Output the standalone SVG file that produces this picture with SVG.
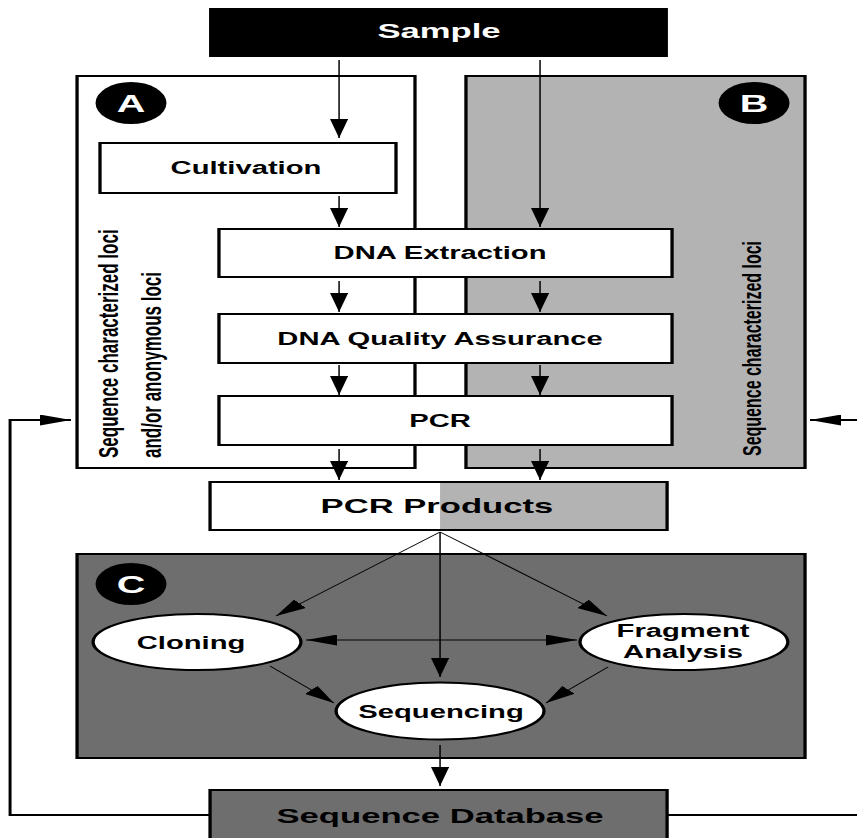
<svg xmlns="http://www.w3.org/2000/svg" width="857" height="838" viewBox="0 0 857 838">
<style>
.bx{stroke:#000;stroke-width:2}
.t{font-family:"Liberation Sans",Arial,Helvetica,sans-serif;font-weight:bold;text-anchor:middle;fill:#000}
.n{font-size:17.7px}
.big{font-size:21px}
.lab{font-size:24px;fill:#fff}
.rot{font-family:"Liberation Sans",Arial,Helvetica,sans-serif;font-weight:bold;fill:#000}
.c{stroke:#000;stroke-width:0.9;fill:none}
.cm{marker-end:url(#ah)}
.fb{stroke:#000;stroke-width:1.8;fill:none}
</style>
<defs>
<marker id="ah" markerUnits="userSpaceOnUse" viewBox="0 0 19 11" markerWidth="19" markerHeight="11" refX="19" refY="5.5" orient="auto-start-reverse">
<path d="M0,0 L19,5.5 L0,11 z" fill="#000"/>
</marker>
</defs>
<rect width="857" height="838" fill="#fff"/>
<g transform="scale(1.65,1)">
  <g id="groupA">
    <rect x="46.7" y="76" width="204.8" height="392" fill="#fff" class="bx"/>
    <ellipse cx="79.4" cy="103" rx="21.5" ry="21" fill="#000"/>
    <text class="t lab" x="79.4" y="112">A</text>
    <text class="rot" font-size="17" transform="translate(71.5,458) rotate(-90)">Sequence characterized loci</text>
    <text class="rot" font-size="17" transform="translate(97.6,458) rotate(-90)">and/or anonymous loci</text>
  </g>
  <g id="groupB">
    <rect x="282.4" y="76" width="205.5" height="392" fill="#b3b3b3" class="bx"/>
    <ellipse cx="457" cy="103" rx="21.5" ry="21" fill="#000"/>
    <text class="t lab" x="457" y="112">B</text>
    <text class="rot" font-size="16" transform="translate(461.2,456) rotate(-90)">Sequence characterized loci</text>
  </g>
  <g id="groupC">
    <rect x="46.7" y="554" width="441.2" height="204" fill="#6e6e6e" class="bx"/>
    <ellipse cx="79.4" cy="584" rx="21.5" ry="21" fill="#000"/>
    <text class="t lab" x="79.4" y="593">C</text>
  </g>
  <g id="connectors">
    <line class="c cm" x1="205.5" y1="60" x2="205.5" y2="138"/>
    <line class="c cm" x1="327.3" y1="60" x2="327.3" y2="227"/>
    <line class="c cm" x1="205.5" y1="196" x2="205.5" y2="227"/>
    <line class="c cm" x1="205.5" y1="281" x2="205.5" y2="312"/>
    <line class="c cm" x1="327.3" y1="281" x2="327.3" y2="312"/>
    <line class="c cm" x1="205.5" y1="365" x2="205.5" y2="395"/>
    <line class="c cm" x1="327.3" y1="365" x2="327.3" y2="395"/>
    <line class="c cm" x1="205.5" y1="449" x2="205.5" y2="480"/>
    <line class="c cm" x1="327.3" y1="449" x2="327.3" y2="480"/>
    <line class="c cm" x1="266.7" y1="532" x2="167.3" y2="616"/>
    <line class="c cm" x1="266.7" y1="532" x2="266.7" y2="677"/>
    <line class="c cm" x1="266.7" y1="532" x2="367.9" y2="616"/>
    <line class="c cm" x1="185.5" y1="640" x2="349.7" y2="640" marker-start="url(#ah)"/>
    <line class="c cm" x1="163.6" y1="666" x2="202.4" y2="703"/>
    <line class="c cm" x1="368.5" y1="667" x2="330.9" y2="703"/>
    <line class="c cm" x1="266.7" y1="745" x2="266.7" y2="786"/>
    <polyline class="fb" points="127.3,815 6.1,815 6.1,420 43,420" marker-end="url(#ah)"/>
    <polyline class="fb" points="404.2,815 525,815"/>
    <line class="fb" x1="525" y1="420" x2="490.9" y2="420" marker-end="url(#ah)"/>
  </g>
  <g id="sample">
    <rect x="126.7" y="8" width="278.1" height="49" fill="#000"/>
    <text class="t big" x="266.1" y="38.5" fill="#fff" style="fill:#fff">Sample</text>
  </g>
  <g id="cultivation">
    <rect x="60.6" y="143" width="179.4" height="50" fill="#fff" class="bx"/>
    <text class="t n" x="149.1" y="174.5">Cultivation</text>
  </g>
  <g id="dnaExtraction">
    <rect x="132.7" y="229" width="274.6" height="48" fill="#fff" class="bx"/>
    <text class="t n" x="266.7" y="259.5">DNA Extraction</text>
  </g>
  <g id="dnaQA">
    <rect x="132.7" y="314" width="274.6" height="49" fill="#fff" class="bx"/>
    <text class="t n" x="266.7" y="345">DNA Quality Assurance</text>
  </g>
  <g id="pcr">
    <rect x="132.7" y="396" width="274.6" height="49" fill="#fff" class="bx"/>
    <text class="t n" x="266.7" y="427">PCR</text>
  </g>
  <g id="pcrProducts">
    <rect x="127.3" y="482" width="139.4" height="48" fill="#fff"/>
    <rect x="266.7" y="482" width="137.6" height="48" fill="#b3b3b3"/>
    <rect x="127.3" y="482" width="277" height="48" fill="none" class="bx"/>
    <text class="t big" x="264.8" y="513">PCR Products</text>
  </g>
  <g id="cloning">
    <ellipse cx="119.4" cy="642" rx="63" ry="28" fill="#fff" class="bx"/>
    <text class="t n" x="115.8" y="649">Cloning</text>
  </g>
  <g id="fragmentAnalysis">
    <ellipse cx="414.5" cy="642" rx="63" ry="28" fill="#fff" class="bx"/>
    <text class="t n" x="414" y="637">Fragment</text>
    <text class="t n" x="414" y="658.5">Analysis</text>
  </g>
  <g id="sequencing">
    <ellipse cx="266.7" cy="711" rx="63" ry="28.5" fill="#fff" class="bx"/>
    <text class="t n" x="267.3" y="718">Sequencing</text>
  </g>
  <g id="sequenceDatabase">
    <rect x="127.3" y="790" width="277" height="60" fill="#6e6e6e" class="bx"/>
    <text class="t big" x="266.7" y="823">Sequence Database</text>
  </g>
</g>
</svg>
